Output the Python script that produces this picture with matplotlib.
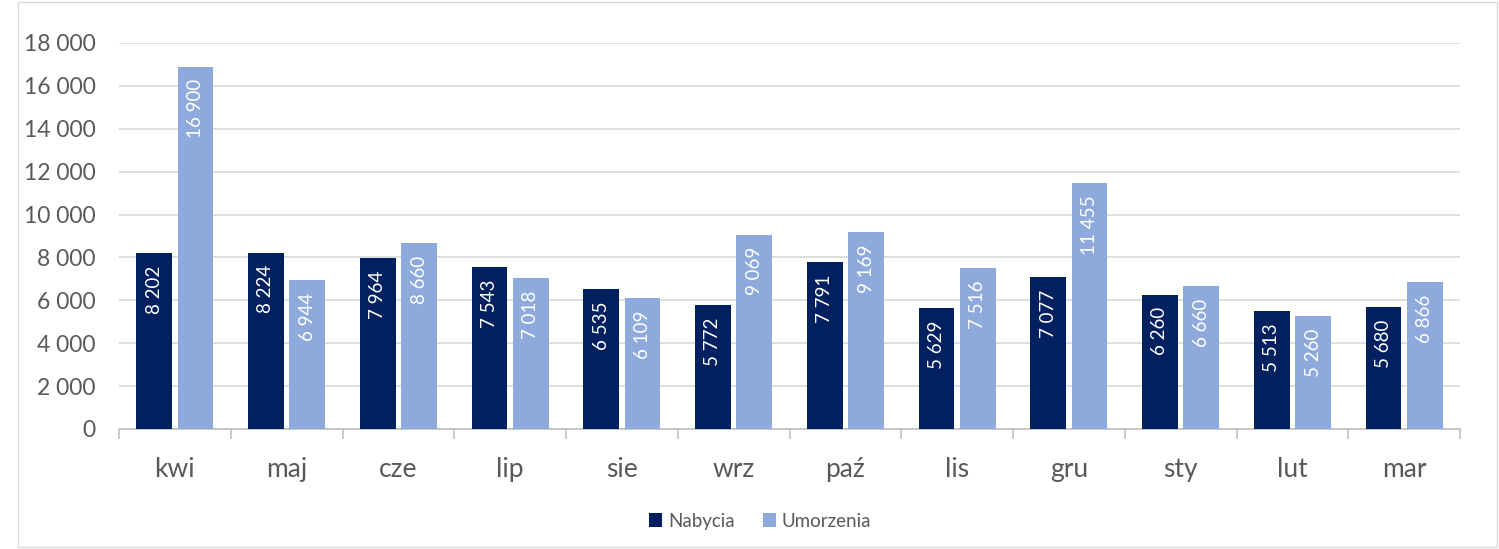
import matplotlib.pyplot as plt
import numpy as np
from matplotlib.patches import Rectangle
from matplotlib.ticker import FuncFormatter

plt.rcParams['font.family'] = ['Lato', 'DejaVu Sans']

months = ['kwi', 'maj', 'cze', 'lip', 'sie', 'wrz', 'paź', 'lis', 'gru', 'sty', 'lut', 'mar']
nabycia = [8202, 8224, 7964, 7543, 6535, 5772, 7791, 5629, 7077, 6260, 5513, 5680]
umorzenia = [16900, 6944, 8660, 7018, 6109, 9069, 9169, 7516, 11455, 6660, 5260, 6866]

dark = '#002060'
light = '#8EA9DB'
txt = '#595959'


def fmt(v):
    return '{:,}'.format(int(v)).replace(',', ' ')


fig = plt.figure(figsize=(14.99, 5.49), dpi=100)
ax = fig.add_axes([0.0794, 0.2186, 0.8946, 0.7031])

x = np.arange(len(months))
w = 0.32
off = 0.185
b1 = ax.bar(x - off, nabycia, w, color=dark, label='Nabycia', zorder=3)
b2 = ax.bar(x + off, umorzenia, w, color=light, label='Umorzenia', zorder=3)

for bars in (b1, b2):
    for b in bars:
        h = b.get_height()
        ax.annotate(fmt(h), (b.get_x() + b.get_width() / 2, h), xytext=(0, -9),
                    textcoords='offset points', rotation=90, ha='center', va='top',
                    color='white', fontsize=13.5, zorder=4)

ax.set_xlim(-0.5, len(months) - 0.5)
ax.set_ylim(0, 18000)
ax.set_yticks(np.arange(0, 18001, 2000))
ax.yaxis.set_major_formatter(FuncFormatter(lambda v, p: fmt(v)))
ax.grid(axis='y', color='#D9D9D9', linewidth=1.2, zorder=0)

ax.set_xticks(x)
ax.set_xticklabels(months)
ax.set_xticks(np.arange(-0.5, len(months)), minor=True)
ax.tick_params(axis='x', which='major', length=0, labelsize=19, colors=txt, pad=20)
ax.tick_params(axis='x', which='minor', length=7, color='#BFBFBF', width=1.2)
ax.tick_params(axis='y', length=0, labelsize=16.5, colors=txt, pad=17)

for s in ['top', 'right', 'left']:
    ax.spines[s].set_visible(False)
ax.spines['bottom'].set_color('#BFBFBF')
ax.spines['bottom'].set_linewidth(1.2)

leg = ax.legend(loc='center', bbox_to_anchor=(0.507, 0.051), bbox_transform=fig.transFigure,
                ncol=2, frameon=False, fontsize=13.5, handlelength=0.7, handleheight=0.7,
                handletextpad=0.3, columnspacing=1.5)
for t in leg.get_texts():
    t.set_color(txt)

fig.patches.append(Rectangle((18 / 1499, 0.003), 1 - 20 / 1499, 0.994, transform=fig.transFigure,
                             fill=False, edgecolor='#D9D9D9', linewidth=1))

fig.savefig('out.png', dpi=100)
